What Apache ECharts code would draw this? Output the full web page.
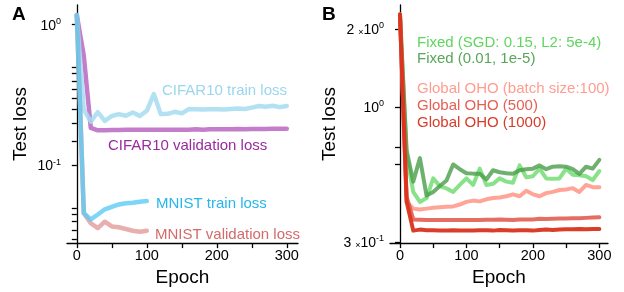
<!DOCTYPE html>
<html>
<head>
<meta charset="utf-8">
<script src="https://cdn.jsdelivr.net/npm/echarts@6/dist/echarts.min.js"></script>
<style>
html,body{margin:0;padding:0;background:#fff;}
#chart{width:624px;height:292px;}
</style>
</head>
<body>
<div id="chart"></div>
<script>
// epochs
var epochs = [0,10,20,30,40,50,60,70,80,90,100,110,120,130,140,150,160,170,180,190,200,210,220,230,240,250,260,270,280,290,300];
var epochsMnist = [0,10,20,30,40,50,60,70,80,90,100];

// panel A
var cifarTrain = [1.17,0.25,0.205,0.24,0.208,0.225,0.232,0.226,0.238,0.225,0.245,0.322,0.232,0.233,0.241,0.235,0.252,0.251,0.25,0.251,0.251,0.25,0.252,0.254,0.252,0.258,0.265,0.262,0.266,0.26,0.265];
var cifarVal = [1.17,0.6,0.185,0.178,0.178,0.179,0.179,0.18,0.18,0.18,0.18,0.18,0.18,0.18,0.18,0.18,0.18,0.181,0.18,0.181,0.181,0.181,0.181,0.182,0.181,0.182,0.182,0.182,0.183,0.183,0.183];
var mnistTrain = [1.17,0.046,0.0415,0.045,0.049,0.051,0.053,0.054,0.0546,0.0555,0.056];
var mnistVal = [1.17,0.046,0.039,0.036,0.040,0.037,0.0365,0.0355,0.0345,0.034,0.0345];

// panel B
var fixedHigh = [2.28,0.65,0.47,0.43,0.445,0.53,0.495,0.485,0.47,0.5,0.53,0.5,0.578,0.5,0.505,0.53,0.515,0.51,0.595,0.535,0.54,0.578,0.53,0.528,0.53,0.578,0.548,0.545,0.54,0.522,0.566];
var fixedLow = [2.28,0.68,0.515,0.635,0.455,0.47,0.495,0.52,0.6,0.575,0.555,0.553,0.552,0.525,0.57,0.56,0.555,0.552,0.57,0.575,0.578,0.595,0.575,0.588,0.59,0.588,0.575,0.552,0.588,0.578,0.625];
var oho100 = [2.28,0.43,0.405,0.402,0.405,0.408,0.41,0.412,0.413,0.42,0.43,0.435,0.432,0.44,0.445,0.447,0.452,0.46,0.452,0.475,0.46,0.452,0.465,0.47,0.478,0.48,0.486,0.47,0.5,0.49,0.49];
var oho500 = [2.28,0.45,0.368,0.367,0.366,0.366,0.366,0.366,0.366,0.366,0.366,0.366,0.366,0.367,0.367,0.368,0.367,0.366,0.368,0.368,0.368,0.37,0.369,0.37,0.371,0.371,0.372,0.372,0.373,0.374,0.375];
var oho1000 = [2.28,0.43,0.333,0.336,0.334,0.334,0.333,0.333,0.334,0.333,0.333,0.333,0.334,0.334,0.333,0.335,0.334,0.333,0.334,0.334,0.333,0.335,0.336,0.335,0.336,0.337,0.337,0.338,0.337,0.338,0.338];

// ticks
var xTicks = [0,50,100,150,200,250,300];
var xLabels = [0,100,200,300];
var yTicksA = [0.03,0.035,0.04,0.045,0.05,0.1,0.15,0.2,0.25,0.3,0.35,0.4,0.45,0.5,1];
var yLabelsA = [0.1,1];
var yTicksB = [0.3,0.6,0.7,1,2];
var yLabelsB = [0.3,1,2];

var font = 'Liberation Sans, Arial, sans-serif';

function pairs(xs, ys) {
    return xs.map(function(x, i) { return [x, ys[i]]; });
}

function near(a, b) {
    return Math.abs(a - b) < 1e-6 * Math.max(1, b);
}

var supRich = {
    b: {fontSize: 14, fontFamily: font, color: '#000', lineHeight: 16, verticalAlign: 'bottom'},
    s: {fontSize: 9, fontFamily: font, color: '#000', lineHeight: 10, verticalAlign: 'top'},
    x: {fontSize: 9, fontFamily: font, color: '#000', lineHeight: 12, verticalAlign: 'bottom'}
};

function xAxisFor(grid, min, max) {
    return {
        type: 'value', gridIndex: grid, min: min, max: max,
        name: 'Epoch', nameLocation: 'middle', nameGap: 21,
        nameTextStyle: {fontSize: 19, fontFamily: font, color: '#000'},
        axisLine: {lineStyle: {color: '#000', width: 1.3}},
        axisTick: {length: 5, lineStyle: {color: '#000', width: 1.3}, customValues: xTicks},
        axisLabel: {fontSize: 14.5, fontFamily: font, color: '#000', margin: 5, customValues: xLabels},
        splitLine: {show: false}
    };
}

function yAxisFor(grid, min, max, ticks, labels, fmt) {
    return {
        type: 'log', logBase: 10, gridIndex: grid, min: min, max: max,
        name: 'Test loss', nameLocation: 'middle', nameGap: 37,
        nameTextStyle: {fontSize: 19, fontFamily: font, color: '#000'},
        axisLine: {show: true, lineStyle: {color: '#000', width: 1.3}},
        axisTick: {length: 5, lineStyle: {color: '#000', width: 1.3}, customValues: ticks},
        axisLabel: {margin: 6, customValues: labels, formatter: fmt, rich: supRich},
        splitLine: {show: false}
    };
}

function line(name, xi, xs, ys, color, width, opacity) {
    return {
        name: name, type: 'line', xAxisIndex: xi, yAxisIndex: xi,
        data: pairs(xs, ys), symbol: 'none', silent: true,
        lineStyle: {color: color, width: width, opacity: opacity, cap: 'round', join: 'round'}
    };
}

function label(text, x, y, color) {
    return {
        type: 'text', left: x, top: y - 8,
        style: {text: text, fill: color, fontSize: 15, fontFamily: font}
    };
}

var chart = echarts.init(document.getElementById('chart'));

var option = {
    animation: false,
    backgroundColor: '#fff',
    grid: [
        {left: 67, right: 326, top: 5, bottom: 45},
        {left: 390, right: 16, top: 5, bottom: 44}
    ],
    xAxis: [xAxisFor(0, -14, 316), xAxisFor(1, -15, 313)],
    yAxis: [
        yAxisFor(0, 0.0282, 1.38, yTicksA, yLabelsA, function(v) {
            if (near(v, 1)) return '{b|10}{s|0}';
            if (near(v, 0.1)) return '{b|10}{s|-1}';
            return '';
        }),
        yAxisFor(1, 0.298, 2.48, yTicksB, yLabelsB, function(v) {
            if (near(v, 2)) return '{b|2 }{x|×}{b|10}{s|0}';
            if (near(v, 1)) return '{b|10}{s|0}';
            if (near(v, 0.3)) return '{b|3 }{x|×}{b|10}{s|-1}';
            return '';
        })
    ],
    series: [
        line('CIFAR10 validation loss', 0, epochs, cifarVal, '#b55cbd', 4.5, 0.8),
        line('CIFAR10 train loss', 0, epochs, cifarTrain, '#a6dcf2', 4.5, 0.85),
        line('MNIST validation loss', 0, epochsMnist, mnistVal, '#e39a9a', 4.5, 0.8),
        line('MNIST train loss', 0, epochsMnist, mnistTrain, '#5ccaf5', 4.5, 0.8),

        line('Fixed (SGD: 0.15, L2: 5e-4)', 1, epochs, fixedHigh, '#74dc74', 4, 0.85),
        line('Fixed (0.01, 1e-5)', 1, epochs, fixedLow, '#4a9e4a', 4, 0.8),
        line('Global OHO (batch size:100)', 1, epochs, oho100, '#ff9585', 4, 0.85),
        line('Global OHO (500)', 1, epochs, oho500, '#e05548', 4, 0.85),
        line('Global OHO (1000)', 1, epochs, oho1000, '#d9341c', 4, 0.95)
    ],
    graphic: [
        {type: 'text', left: 12, top: 5, style: {text: 'A', fill: '#000', fontSize: 19, fontWeight: 'bold', fontFamily: font}},
        {type: 'text', left: 322, top: 5, style: {text: 'B', fill: '#000', fontSize: 19, fontWeight: 'bold', fontFamily: font}},
        label('CIFAR10 train loss', 162, 91, '#9ad6ee'),
        label('CIFAR10 validation loss', 108, 146, '#9a2b9e'),
        label('MNIST train loss', 156, 204, '#27b6ec'),
        label('MNIST validation loss', 155, 235, '#d36b6b'),
        label('Fixed (SGD: 0.15, L2: 5e-4)', 417, 43, '#5fd65f'),
        label('Fixed (0.01, 1e-5)', 417, 59, '#5aa65a'),
        label('Global OHO (batch size:100)', 417, 89, '#ff9d90'),
        label('Global OHO (500)', 417, 106, '#e55f55'),
        label('Global OHO (1000)', 417, 123, '#d63c2a')
    ]
};

chart.setOption(option);

window.onresize = function() {
    chart.resize();
};
</script>
</body>
</html>
